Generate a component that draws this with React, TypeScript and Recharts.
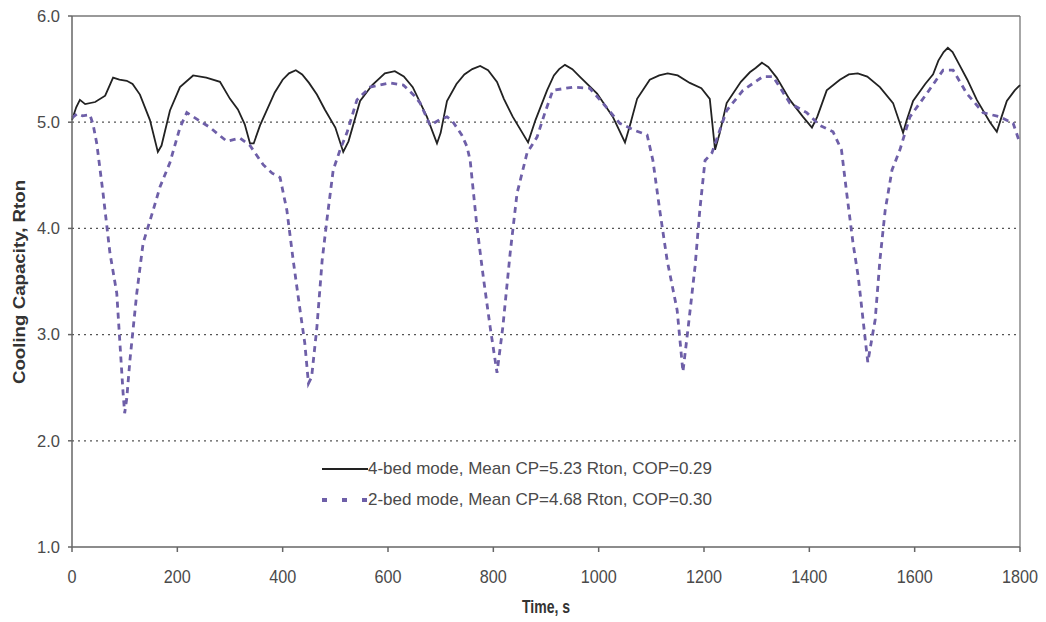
import React from "react";
import {
  LineChart,
  Line,
  XAxis,
  YAxis,
  ReferenceLine,
  Legend,
  Label,
} from "recharts";

// 4-bed mode (time in s, cooling capacity in Rton)
const fourBedTime = [
  0, 8, 15, 25, 44, 63, 78, 90, 104, 115, 129, 148, 163, 170, 186, 205, 230, 255, 281, 300,
  315, 328, 338, 345, 357, 385, 400, 412, 425, 437, 450, 465, 480, 500, 515, 525, 547, 570,
  594, 613, 630, 647, 674, 693, 700, 712, 730, 745, 760, 775, 790, 807, 820, 837, 866, 880,
  902, 915, 925, 936, 950, 964, 997, 1027, 1050, 1060, 1073, 1097, 1115, 1131, 1150, 1173,
  1195, 1211, 1221, 1230, 1243, 1270, 1287, 1298, 1310, 1322, 1338, 1363, 1388, 1405, 1415,
  1433, 1458, 1475, 1492, 1510, 1534, 1559, 1578, 1585, 1597, 1620, 1635, 1645, 1655, 1663,
  1672, 1685, 1700, 1718, 1743, 1756, 1765, 1775, 1790, 1800,
];
const fourBedCp = [
  5.02, 5.14, 5.21, 5.17, 5.19, 5.25, 5.42, 5.4, 5.39, 5.36, 5.26, 5.02, 4.72, 4.78, 5.11,
  5.33, 5.44, 5.42, 5.38, 5.22, 5.12, 4.98, 4.8, 4.8, 4.97, 5.28, 5.4, 5.46, 5.49, 5.45,
  5.37, 5.26, 5.12, 4.95, 4.72, 4.82, 5.2, 5.35, 5.46, 5.48, 5.43, 5.33, 5.05, 4.8, 4.9,
  5.2, 5.36, 5.45, 5.5, 5.53, 5.49, 5.38, 5.22, 5.05, 4.81, 5.02, 5.3, 5.44, 5.5, 5.54, 5.5,
  5.43, 5.27, 5.05, 4.81, 4.98, 5.22, 5.4, 5.44, 5.46, 5.44, 5.37, 5.32, 5.22, 4.74, 4.9,
  5.18, 5.38, 5.47, 5.51, 5.56, 5.52, 5.42, 5.21, 5.05, 4.95, 5.05, 5.3, 5.4, 5.45, 5.46,
  5.43, 5.33, 5.18, 4.9, 5.02, 5.2, 5.36, 5.45, 5.58, 5.66, 5.7, 5.66, 5.54, 5.4, 5.21, 5.0,
  4.91, 5.05, 5.2, 5.3, 5.35,
];

// 2-bed mode
const twoBedTime = [
  0, 10, 20, 34, 40, 47, 59, 72, 85, 91, 97, 100, 104, 110, 123, 135, 154, 167, 186, 205,
  218, 240, 262, 294, 319, 338, 363, 380, 395, 408, 420, 433, 442, 449, 455, 465, 475, 484,
  496, 509, 522, 541, 566, 604, 629, 650, 661, 680, 700, 712, 721, 740, 750, 756, 769, 781,
  794, 807, 818, 832, 845, 864, 883, 898, 913, 951, 983, 1008, 1040, 1070, 1092, 1103, 1116,
  1130, 1149, 1160, 1170, 1183, 1192, 1202, 1215, 1243, 1274, 1312, 1331, 1363, 1395, 1420,
  1445, 1461, 1471, 1483, 1493, 1502, 1511, 1525, 1534, 1544, 1557, 1572, 1591, 1623, 1654,
  1673, 1699, 1730, 1762, 1787, 1800,
];
const twoBedCp = [
  5.04, 5.08, 5.06, 5.07, 4.98, 4.8, 4.33, 3.77, 3.39, 2.92, 2.45, 2.26, 2.4, 2.76, 3.39,
  3.86, 4.17, 4.39, 4.62, 4.95, 5.09, 5.02, 4.95, 4.82, 4.85, 4.78, 4.6, 4.52, 4.48, 4.17,
  3.7, 3.23, 2.92, 2.54, 2.6, 3.07, 3.7, 4.08, 4.55, 4.74, 4.9, 5.21, 5.33, 5.37, 5.35, 5.25,
  5.18, 4.97, 5.03, 5.05, 5.02, 4.88, 4.77, 4.64, 4.01, 3.54, 3.07, 2.64, 3.07, 3.77, 4.33,
  4.71, 4.86, 5.09, 5.3, 5.33, 5.32, 5.18, 4.99, 4.92, 4.88, 4.64, 4.17, 3.7, 3.23, 2.65,
  3.07, 3.64, 4.17, 4.64, 4.71, 5.11, 5.3, 5.43, 5.43, 5.18, 5.09, 4.97, 4.91, 4.74, 4.33,
  3.86, 3.54, 3.14, 2.74, 3.14, 3.7, 4.17, 4.55, 4.74, 5.05, 5.27, 5.49, 5.49, 5.27, 5.09,
  5.05, 4.99, 4.8,
];

const xTicks = [0, 200, 400, 600, 800, 1000, 1200, 1400, 1600, 1800];
const yTicks = [1, 2, 3, 4, 5, 6];
const gridValues = [2, 3, 4, 5];

const seriesNames = [
  "4-bed mode, Mean CP=5.23 Rton, COP=0.29",
  "2-bed mode, Mean CP=4.68 Rton, COP=0.30",
];

const fourBed = fourBedTime.map((t, i) => ({ t, cp: fourBedCp[i] }));
const twoBed = twoBedTime.map((t, i) => ({ t, cp: twoBedCp[i] }));

const FONT = "'Liberation Sans', Arial, sans-serif";
const PURPLE = "#6e5fa8";
const TEXT = "#4a4a4a";

// x tick labels in the figure are a narrow face, so squeeze them a little
function XTick({ x, y, payload }: any) {
  return (
    <text
      transform={`translate(${x},${y}) scale(0.9,1)`}
      textAnchor="middle"
      dy="0.71em"
      fontFamily={FONT}
      fontSize={18}
      fill={TEXT}
    >
      {payload.value}
    </text>
  );
}

function LegendBox() {
  return (
    <div style={{ fontFamily: FONT, fontSize: 17, color: TEXT, whiteSpace: "nowrap" }}>
      <div style={{ display: "flex", alignItems: "center", height: 31 }}>
        <svg width={46} height={10}>
          <line x1={0} y1={5} x2={46} y2={5} stroke="#222" strokeWidth={2} />
        </svg>
        <span>{seriesNames[0]}</span>
      </div>
      <div style={{ display: "flex", alignItems: "center", height: 31 }}>
        <svg width={46} height={10}>
          <line
            x1={0}
            y1={5}
            x2={46}
            y2={5}
            stroke={PURPLE}
            strokeWidth={4}
            strokeDasharray="5 15"
          />
        </svg>
        <span>{seriesNames[1]}</span>
      </div>
    </div>
  );
}

export default function App() {
  return (
    <div style={{ position: "absolute", left: 0, top: 0, background: "#fff" }}>
      <LineChart
        width={1046}
        height={622}
        margin={{ top: 16, right: 26, bottom: 35, left: 0 }}
      >
        <XAxis
          type="number"
          dataKey="t"
          domain={[0, 1800]}
          ticks={xTicks}
          interval={0}
          height={40}
          stroke="#666"
          strokeWidth={1.5}
          tickSize={5}
          tickMargin={18}
          tick={<XTick />}
          allowDuplicatedCategory={false}
        >
          <Label
            content={({ viewBox }: any) => {
              const cx = viewBox.x + viewBox.width / 2;
              const cy = viewBox.y + 66;
              return (
                <text
                  transform={`translate(${cx},${cy}) scale(0.78,1)`}
                  textAnchor="middle"
                  fontFamily={FONT}
                  fontWeight="bold"
                  fontSize={18}
                  fill="#333"
                >
                  Time, s
                </text>
              );
            }}
          />
        </XAxis>
        <YAxis
          type="number"
          domain={[1, 6]}
          ticks={yTicks}
          interval={0}
          width={72}
          stroke="#666"
          strokeWidth={1.5}
          tickSize={4}
          tickMargin={8}
          tickFormatter={(v: number) => v.toFixed(1)}
          tick={{ fontSize: 16.5, fill: TEXT, fontFamily: FONT }}
        >
          <Label
            content={({ viewBox }: any) => {
              const cx = viewBox.x + 19;
              const cy = 282;
              return (
                <text
                  transform={`translate(${cx},${cy}) rotate(-90) scale(1.1,1)`}
                  textAnchor="middle"
                  dominantBaseline="central"
                  fontFamily={FONT}
                  fontWeight="bold"
                  fontSize={17}
                  fill="#333"
                >
                  Cooling Capacity, Rton
                </text>
              );
            }}
          />
        </YAxis>
        {gridValues.map((v) => (
          <ReferenceLine key={v} y={v} stroke="#555" strokeDasharray="2 4" strokeWidth={1.3} />
        ))}
        <ReferenceLine y={6} stroke="#777" strokeWidth={1.3} />
        <ReferenceLine x={1800} stroke="#777" strokeWidth={1.3} />
        <Legend
          layout="vertical"
          align="center"
          verticalAlign="middle"
          content={<LegendBox />}
          wrapperStyle={{ left: 322, top: 453, width: 440, bottom: "auto", right: "auto" }}
        />
        <Line
          data={fourBed}
          dataKey="cp"
          name={seriesNames[0]}
          type="linear"
          stroke="#222"
          strokeWidth={1.8}
          dot={false}
          isAnimationActive={false}
        />
        <Line
          data={twoBed}
          dataKey="cp"
          name={seriesNames[1]}
          type="linear"
          stroke={PURPLE}
          strokeWidth={2.8}
          strokeDasharray="6 5"
          dot={false}
          isAnimationActive={false}
        />
      </LineChart>
    </div>
  );
}
